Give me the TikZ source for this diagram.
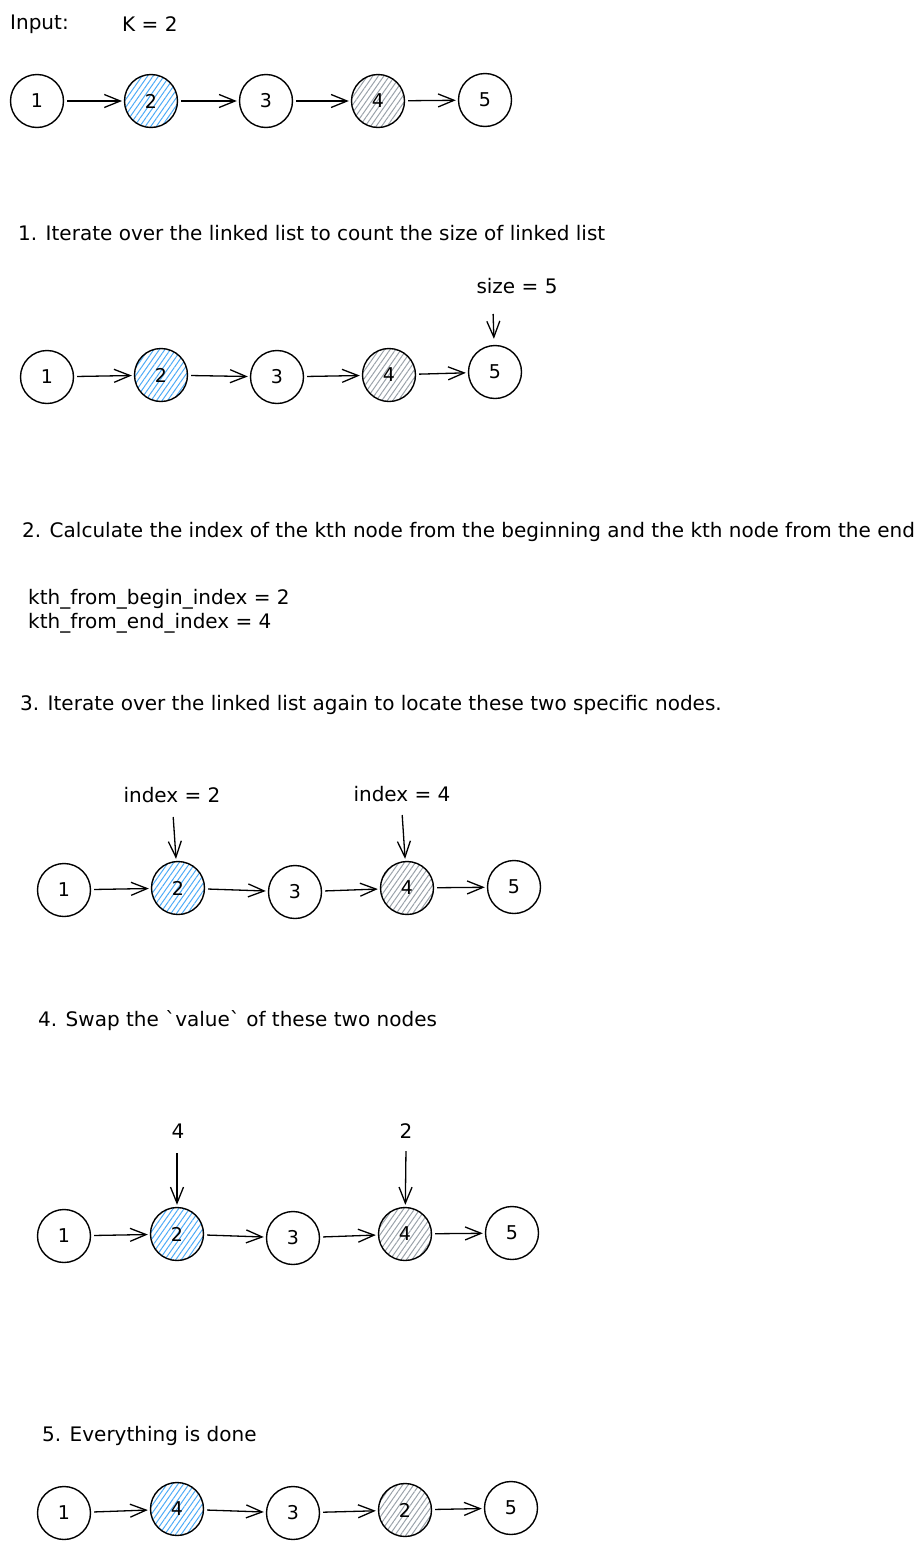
\documentclass[tikz,border=0pt]{standalone}
\usepackage{fontspec}
\setmainfont{DejaVu Sans}
\usetikzlibrary{arrows.meta,patterns.meta}
\definecolor{hatchblue}{HTML}{4DABF7}
\definecolor{hatchgray}{HTML}{9AA2AA}
\begin{document}
\begin{tikzpicture}[x=1pt,y=-1pt,%
% common options for the list cells:
cell/.style = {circle, draw, line width=1.4pt, minimum size=53pt, inner sep=0,
            font=\fontsize{19}{19}\selectfont},
bluecell/.style = {cell, pattern={Lines[angle=55,distance=4.5pt,line width=1pt]},
            pattern color=hatchblue},
graycell/.style = {cell, pattern={Lines[angle=55,distance=4.5pt,line width=1pt]},
            pattern color=hatchgray},
% common options for the texts:
note/.style = {anchor=base west, inner sep=0, font=\fontsize{20}{20}\selectfont},
tag/.style = {anchor=base, inner sep=0, font=\fontsize{20}{20}\selectfont},
% common options for the arrows:
link/.style = {-{Straight Barb[length=16pt,width=13pt,line width=1.3pt]},
            line width=1.3pt, shorten <=3pt, shorten >=2pt}]
\useasboundingbox (0,0) rectangle (920,1550);
% input
\node[note] (in) at (10,29) {Input:};
\node[note] (k) at (122,31) {K = 2};
\node[cell] (A1) at (37,101) {1};
\node[bluecell] (A2) at (151,101) {2};
\node[cell] (A3) at (266,101) {3};
\node[graycell] (A4) at (378,101) {4};
\node[cell] (A5) at (485,100) {5};
\draw[link] (A1) to (A2);
\draw[link] (A2) to (A3);
\draw[link] (A3) to (A4);
\draw[link] (A4) to (A5);
% step 1
\node[note] (s1) at (18,240) {1. Iterate over the linked list to count the size of linked list};
\node[tag] (size) at (517,293) {size = 5};
\coordinate (psize) at (493,311);
\node[cell] (B1) at (47,377) {1};
\node[bluecell] (B2) at (161,375) {2};
\node[cell] (B3) at (277,377) {3};
\node[graycell] (B4) at (389,375) {4};
\node[cell] (B5) at (495,372) {5};
\draw[link] (B1) to (B2);
\draw[link] (B2) to (B3);
\draw[link] (B3) to (B4);
\draw[link] (B4) to (B5);
\draw[link, shorten >=6pt] (psize) to (B5);
% step 2
\node[note] (s2) at (22,537) {2. Calculate the index of the kth node from the beginning and the kth node from the end};
\node[note] (kb) at (28,604) {kth\_from\_begin\_index = 2};
\node[note] (ke) at (28,628) {kth\_from\_end\_index = 4};
% step 3
\node[note] (s3) at (20,710) {3. Iterate over the linked list again to locate these two specific nodes.};
\node[tag] (ix2) at (172,802) {index = 2};
\node[tag] (ix4) at (402,801) {index = 4};
\coordinate (pix2) at (173,814);
\coordinate (pix4) at (402,812);
\node[cell] (C1) at (64,890) {1};
\node[bluecell] (C2) at (178,888) {2};
\node[cell] (C3) at (295,892) {3};
\node[graycell] (C4) at (407,888) {4};
\node[cell] (C5) at (514,887) {5};
\draw[link] (C1) to (C2);
\draw[link] (C2) to (C3);
\draw[link] (C3) to (C4);
\draw[link] (C4) to (C5);
\draw[link] (pix2) to (C2);
\draw[link] (pix4) to (C4);
% step 4
\node[note] (s4) at (38,1026) {4. Swap the \textasciigrave value\textasciigrave\ of these two nodes};
\node[tag] (v4) at (178,1138) {4};
\node[tag] (v2) at (406,1138) {2};
\coordinate (pv4) at (177,1150);
\coordinate (pv2) at (406,1148);
\node[cell] (D1) at (64,1236) {1};
\node[bluecell] (D2) at (177,1234) {2};
\node[cell] (D3) at (293,1238) {3};
\node[graycell] (D4) at (405,1234) {4};
\node[cell] (D5) at (512,1233) {5};
\draw[link] (D1) to (D2);
\draw[link] (D2) to (D3);
\draw[link] (D3) to (D4);
\draw[link] (D4) to (D5);
\draw[link] (pv4) to (D2);
\draw[link] (pv2) to (D4);
% step 5
\node[note] (s5) at (42,1441) {5. Everything is done};
\node[cell] (E1) at (64,1513) {1};
\node[bluecell] (E2) at (177,1509) {4};
\node[cell] (E3) at (293,1513) {3};
\node[graycell] (E4) at (405,1510) {2};
\node[cell] (E5) at (511,1508) {5};
\draw[link] (E1) to (E2);
\draw[link] (E2) to (E3);
\draw[link] (E3) to (E4);
\draw[link] (E4) to (E5);
\end{tikzpicture}
\end{document}
